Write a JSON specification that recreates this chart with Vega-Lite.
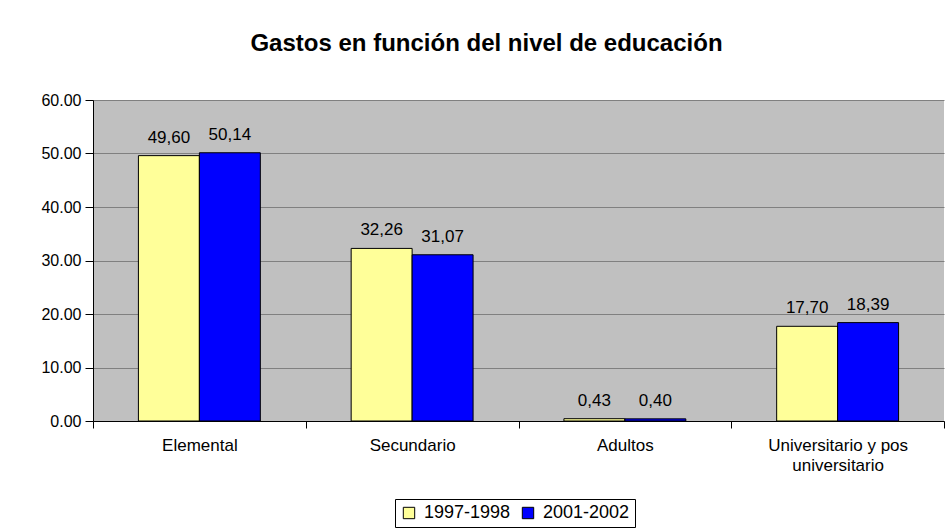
{
  "$schema": "https://vega.github.io/schema/vega-lite/v6.json",
  "autosize": "none",
  "width": 851,
  "height": 321,
  "padding": {"left": 93, "top": 100, "right": 1, "bottom": 108},
  "background": "white",
  "title": {
    "text": "Gastos en función del nivel de educación",
    "font": "Liberation Sans",
    "fontSize": 24,
    "fontWeight": "bold",
    "color": "black",
    "anchor": "middle",
    "offset": 36,
    "dx": -32
  },
  "data": {
    "values": [
      {"nivel": "Elemental", "periodo": "1997-1998", "valor": 49.60},
      {"nivel": "Elemental", "periodo": "2001-2002", "valor": 50.14},
      {"nivel": "Secundario", "periodo": "1997-1998", "valor": 32.26},
      {"nivel": "Secundario", "periodo": "2001-2002", "valor": 31.07},
      {"nivel": "Adultos", "periodo": "1997-1998", "valor": 0.43},
      {"nivel": "Adultos", "periodo": "2001-2002", "valor": 0.40},
      {"nivel": "Universitario y pos universitario", "periodo": "1997-1998", "valor": 17.70},
      {"nivel": "Universitario y pos universitario", "periodo": "2001-2002", "valor": 18.39}
    ]
  },
  "transform": [
    {"calculate": "replace(format(datum.valor, '.2f'), '.', ',')", "as": "etiqueta"}
  ],
  "encoding": {
    "x": {
      "field": "nivel",
      "type": "nominal",
      "sort": null,
      "scale": {"paddingInner": 0, "paddingOuter": 0},
      "axis": {
        "title": null,
        "labelAngle": 0,
        "tickBand": "extent",
        "tickSize": 7,
        "tickColor": "black",
        "domainColor": "black",
        "labelPadding": 9,
        "labelFont": "Liberation Sans",
        "labelFontSize": 17,
        "labelColor": "black",
        "labelLineHeight": 20,
        "labelExpr": "datum.label == 'Universitario y pos universitario' ? ['Universitario y pos', 'universitario'] : datum.label"
      }
    },
    "xOffset": {
      "field": "periodo",
      "type": "nominal",
      "scale": {"paddingInner": 0, "paddingOuter": 0.745}
    },
    "y": {
      "field": "valor",
      "type": "quantitative",
      "scale": {"domain": [0, 60]},
      "axis": {
        "title": null,
        "values": [0, 10, 20, 30, 40, 50, 60],
        "format": ".2f",
        "tickSize": 8,
        "tickColor": "black",
        "domainColor": "black",
        "gridColor": "#808080",
        "gridOpacity": 1,
        "labelFont": "Liberation Sans",
        "labelFontSize": 16,
        "labelColor": "black",
        "labelPadding": 4
      }
    }
  },
  "layer": [
    {
      "mark": {"type": "bar", "stroke": "black", "strokeWidth": 1},
      "encoding": {
        "color": {
          "field": "periodo",
          "type": "nominal",
          "scale": {"domain": ["1997-1998", "2001-2002"], "range": ["#FFFF99", "#0000FF"]},
          "legend": {
            "title": null,
            "orient": "none",
            "direction": "horizontal",
            "legendX": 302,
            "legendY": 399,
            "strokeColor": "black",
            "padding": 5,
            "symbolType": "square",
            "symbolSize": 130,
            "symbolStrokeColor": "black",
            "symbolStrokeWidth": 1,
            "labelFont": "Liberation Sans",
            "labelFontSize": 18,
            "labelColor": "black",
            "columnPadding": 8,
            "labelOffset": 6
          }
        }
      }
    },
    {
      "mark": {"type": "text", "dy": -18, "font": "Liberation Sans", "fontSize": 17, "color": "black"},
      "encoding": {
        "text": {"field": "etiqueta"}
      }
    }
  ],
  "config": {
    "view": {"fill": "#C0C0C0", "stroke": null}
  }
}
